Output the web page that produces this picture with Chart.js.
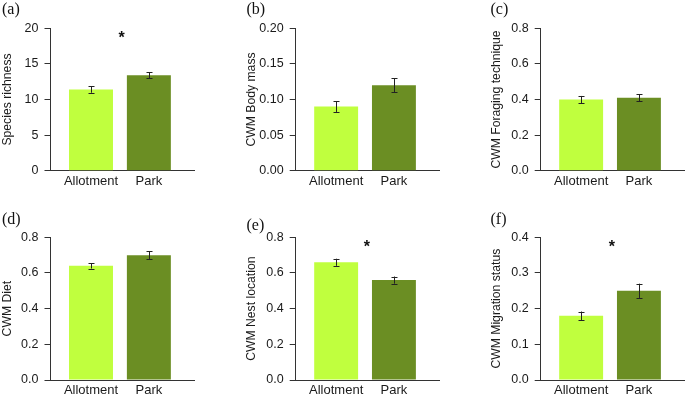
<!DOCTYPE html>
<html><head><meta charset="utf-8">
<script src="https://cdn.jsdelivr.net/npm/chart.js@4"></script>
<style>
html,body{margin:0;padding:0;background:#fff;}
#wrap{position:relative;width:685px;height:396px;overflow:hidden;background:#fff}
canvas{position:absolute}
</style></head><body><div id="wrap"></div>
<script>
// ---- data ----
const categories = ['Allotment', 'Park'];
const panelLabels = ['(a)', '(b)', '(c)', '(d)', '(e)', '(f)'];
const yTitles = ['Species richness', 'CWM Body mass', 'CWM Foraging technique', 'CWM Diet', 'CWM Nest location', 'CWM Migration status'];
const allotmentMeans = [11.4, 0.090, 0.40, 0.64, 0.66, 0.18];
const parkMeans = [13.4, 0.120, 0.41, 0.70, 0.56, 0.25];
const allotmentErr = [0.45, 0.0075, 0.02, 0.015, 0.02, 0.012];
const parkErr = [0.45, 0.0095, 0.02, 0.022, 0.02, 0.02];
const yMax = [20, 0.20, 0.8, 0.8, 0.8, 0.4];
const yStep = [5, 0.05, 0.2, 0.2, 0.2, 0.1];
const tickDecimals = [0, 2, 1, 1, 1, 1];
const significant = [true, false, false, false, true, true];

// ---- styling / layout ----
const barColors = ['#C0FF3E', '#6B8E23'];
const colLeft = [0, 230, 455], colWidth = [230, 225, 230];
const colAxisX = [50.5, 295.7, 540.7], colPlotRight = [194, 439, 684];
const rowTop = [0, 198], rowHeight = [198, 198];
const rowPlotTop = [28.3, 237.3], rowPlotBottom = [170.7, 380];
const titleCenter = [8, 21.7, 41.7];
const labelX = [2, 246.5, 490.5];
const labelBase = [[14, 14, 14], [224, 229.5, 224]];
const titleFontSize = 12.2, titleLH = 1.2;

const wrap = document.getElementById('wrap');

const extrasPlugin = {
  id: 'extras',
  afterDatasetsDraw(chart, args, opts) {
    const ctx = chart.ctx;
    const xs = chart.scales.x, ys = chart.scales.y;
    const meta = chart.getDatasetMeta(0);
    const ds = chart.data.datasets[0];
    ctx.save();
    ctx.strokeStyle = '#222';
    ctx.lineWidth = 1;
    meta.data.forEach((bar, j) => {
      const m = ds.data[j].y, e = ds.errors[j];
      const yT = ys.getPixelForValue(m + e), yB = ys.getPixelForValue(m - e);
      const x = Math.round(bar.x) + 0.5;
      ctx.beginPath();
      ctx.moveTo(x, yT); ctx.lineTo(x, yB);
      ctx.moveTo(x - 3, Math.round(yT) + 0.5); ctx.lineTo(x + 3, Math.round(yT) + 0.5);
      ctx.moveTo(x - 3, Math.round(yB) + 0.5); ctx.lineTo(x + 3, Math.round(yB) + 0.5);
      ctx.stroke();
    });
    ctx.fillStyle = '#111';
    if (opts.star) {
      ctx.font = 'bold 16px "Liberation Sans", Arial, sans-serif';
      ctx.textAlign = 'center';
      ctx.textBaseline = 'alphabetic';
      ctx.fillText('*', xs.getPixelForValue(1.53), ys.getPixelForValue(ys.max * 0.96) + 9);
    }
    ctx.font = '16px "Liberation Serif", "Times New Roman", serif';
    ctx.textAlign = 'left';
    ctx.textBaseline = 'alphabetic';
    ctx.fillText(opts.label, opts.lx, opts.ly);
    ctx.restore();
  }
};

for (let i = 0; i < 6; i++) {
  const r = Math.floor(i / 3), c = i % 3;
  const L = colLeft[c], W = colWidth[c], T = rowTop[r], H = rowHeight[r];
  const cv = document.createElement('canvas');
  cv.width = W; cv.height = H;
  cv.style.left = L + 'px'; cv.style.top = T + 'px';
  cv.style.width = W + 'px'; cv.style.height = H + 'px';
  wrap.appendChild(cv);
  const axisX = colAxisX[c], plotRight = colPlotRight[c];
  const plotTop = rowPlotTop[r], plotBottom = rowPlotBottom[r];
  const dec = tickDecimals[i];
  new Chart(cv, {
    type: 'bar',
    data: {
      datasets: [{
        data: [{ x: 1, y: allotmentMeans[i] }, { x: 2, y: parkMeans[i] }],
        errors: [allotmentErr[i], parkErr[i]],
        backgroundColor: barColors,
        borderWidth: 0,
        barPercentage: 0.76,
        categoryPercentage: 1
      }]
    },
    options: {
      responsive: false,
      animation: false,
      devicePixelRatio: 1,
      layout: { padding: { top: plotTop - T, right: L + W - plotRight, left: 0, bottom: 0 } },
      plugins: {
        legend: { display: false },
        tooltip: { enabled: false },
        extras: {
          star: significant[i],
          label: panelLabels[i],
          lx: labelX[c] - L,
          ly: labelBase[r][c] - T
        }
      },
      scales: {
        x: {
          type: 'linear',
          offset: false,
          min: 0.30, max: 2.78,
          afterBuildTicks: (s) => { s.ticks = [{ value: 1 }, { value: 2 }]; },
          afterFit: (s) => { s.height = T + H - plotBottom; },
          grid: { display: false, drawTicks: false, offset: false },
          border: { display: true, color: '#333', width: 1 },
          ticks: {
            padding: 3,
            color: '#1a1a1a',
            font: { family: '"Liberation Sans", Arial, sans-serif', size: 13 },
            maxRotation: 0,
            callback: (v) => categories[Math.round(v) - 1]
          }
        },
        y: {
          min: 0, max: yMax[i],
          afterFit: (s) => { s.width = axisX - L; },
          grid: { drawOnChartArea: false, drawTicks: true, tickLength: 6, color: '#333' },
          border: { display: true, color: '#333', width: 1 },
          ticks: {
            stepSize: yStep[i],
            padding: 6,
            color: '#1a1a1a',
            font: { family: '"Liberation Sans", Arial, sans-serif', size: 12.5 },
            callback: (v) => Number(v).toFixed(dec)
          },
          title: {
            display: true,
            text: yTitles[i],
            color: '#1a1a1a',
            font: { family: '"Liberation Sans", Arial, sans-serif', size: titleFontSize, lineHeight: titleLH },
            padding: { top: titleCenter[c] - titleFontSize * titleLH / 2, bottom: 0 }
          }
        }
      }
    },
    plugins: [extrasPlugin]
  });
}
</script></body></html>
